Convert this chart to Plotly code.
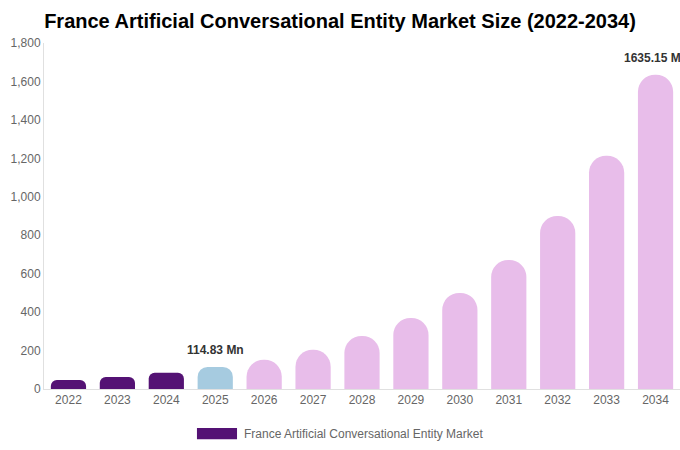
import plotly.graph_objects as go

# market size, USD Mn
years = ['2022', '2023', '2024', '2025', '2026', '2027', '2028',
         '2029', '2030', '2031', '2032', '2033', '2034']
values = [47, 62, 84, 114.83, 152, 204, 276, 369, 500, 671, 900, 1213, 1635.15]
labelled = {'2025': '114.83 Mn', '2034': '1635.15 Mn'}

dark = 'rgb(84,18,116)'
blue = 'rgb(166,203,224)'
pink = 'rgb(232,189,234)'

# historical / base year / forecast, each with its own corner rounding
groups = [
    (years[:3], values[:3], dark, 6),
    (years[3:4], values[3:4], blue, 10),
    (years[4:], values[4:], pink, 17),
]

fig = go.Figure()
for xs, ys, clr, rad in groups:
    fig.add_trace(go.Bar(
        x=xs,
        y=ys,
        marker=dict(color=clr, cornerradius=rad, line=dict(width=0)),
        hoverinfo='x+y',
        showlegend=False,
    ))

# value labels above the highlighted bars (x as category index)
for yr, txt in labelled.items():
    i = years.index(yr)
    fig.add_annotation(
        x=i, y=values[i], text='<b>' + txt + '</b>',
        showarrow=False, yanchor='bottom', yshift=8,
        font=dict(size=12, color='#333333'),
    )

# legend drawn by hand so the swatch is wide like the original
fig.add_shape(type='rect', xref='paper', yref='paper',
              x0=0.2405, x1=0.3035, y0=-0.113, y1=-0.145,
              fillcolor=dark, line=dict(width=0))
fig.add_annotation(xref='paper', yref='paper', x=0.312, y=-0.129,
                   text='France Artificial Conversational Entity Market',
                   showarrow=False, xanchor='left', yanchor='middle',
                   font=dict(size=12, color='#666666'))

fig.update_layout(
    width=680, height=450,
    margin=dict(l=44, r=0, t=43, b=61),
    paper_bgcolor='white', plot_bgcolor='white',
    font=dict(family='Liberation Sans, Arial, sans-serif'),
    title=dict(text='<b>France Artificial Conversational Entity Market Size (2022-2034)</b>',
               x=0.5, xanchor='center', y=0.953, yanchor='middle',
               font=dict(size=20, color='black')),
    barmode='overlay',
    bargap=0.28,
    xaxis=dict(type='category', categoryorder='array', categoryarray=years,
               range=[-0.5, len(years) - 0.5], showgrid=False,
               showline=True, linecolor='#e0e0e0', linewidth=1, ticks='',
               tickfont=dict(size=12, color='#666666')),
    yaxis=dict(range=[0, 1800], dtick=200, tickformat=',', showgrid=False,
               showline=True, linecolor='#e0e0e0', linewidth=1, zeroline=False,
               ticks='', tickfont=dict(size=12, color='#666666')),
)

fig.write_html('out.html', config={'displayModeBar': False},
               post_script="document.body.style.margin='0';")
